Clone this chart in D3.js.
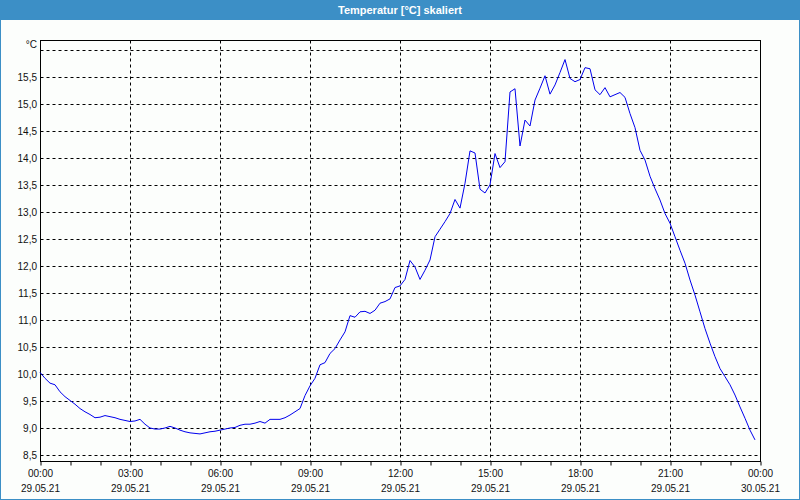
<!DOCTYPE html>
<html><head><meta charset="utf-8">
<script src="https://cdn.jsdelivr.net/npm/d3@7"></script>
<style>html,body{margin:0;padding:0;background:#fcfefc;}svg{display:block;}</style>
</head><body>
<svg id="c" width="800" height="500"></svg>
<script>
const titleText = "Temperatur [°C] skaliert";
const unitLabel = "°C";
const startTime = new Date(2021, 4, 29, 0, 0);
const endTime = new Date(2021, 4, 30, 0, 0);
const stepMinutes = 10;
// temperature readings every 10 minutes from 00:00 on 29.05.21
const temps = [
 10.03, 9.92, 9.83, 9.80, 9.67, 9.58, 9.51, 9.44, 9.36, 9.30,
 9.25, 9.19, 9.20, 9.23, 9.21, 9.19, 9.16, 9.14, 9.12, 9.13,
 9.16, 9.07, 9.00, 8.98, 8.98, 9.00, 9.03, 9.00, 8.96, 8.93,
 8.91, 8.90, 8.89, 8.91, 8.93, 8.94, 8.96, 8.98, 9.00, 9.01,
 9.05, 9.07, 9.07, 9.09, 9.12, 9.09, 9.16, 9.16, 9.16, 9.19,
 9.24, 9.30, 9.36, 9.60, 9.78, 9.92, 10.17, 10.21, 10.38, 10.47,
 10.63, 10.78, 11.08, 11.05, 11.15, 11.16, 11.12, 11.18, 11.31, 11.34,
 11.39, 11.60, 11.63, 11.75, 12.10, 11.98, 11.75, 11.92, 12.11, 12.54,
 12.68, 12.82, 12.97, 13.23, 13.07, 13.53, 14.13, 14.09, 13.42, 13.35,
 13.50, 14.08, 13.82, 13.93, 15.22, 15.28, 14.22, 14.70, 14.59, 15.07,
 15.29, 15.52, 15.18, 15.35, 15.58, 15.82, 15.47, 15.41, 15.45, 15.67,
 15.65, 15.26, 15.17, 15.30, 15.13, 15.17, 15.21, 15.12, 14.82, 14.56,
 14.14, 13.96, 13.66, 13.43, 13.22, 12.97, 12.79, 12.54, 12.29, 12.05,
 11.74, 11.46, 11.15, 10.84, 10.57, 10.32, 10.10, 9.95, 9.80, 9.61,
 9.39, 9.18, 8.96, 8.78
];
const yTickValues = [8.5, 9.0, 9.5, 10.0, 10.5, 11.0, 11.5, 12.0, 12.5, 13.0, 13.5, 14.0, 14.5, 15.0, 15.5];
const yGridValues = [8.5, 9.0, 9.5, 10.0, 10.5, 11.0, 11.5, 12.0, 12.5, 13.0, 13.5, 14.0, 14.5, 15.0, 15.5, 16.0];
const yDomain = [8.389, 16.182];

const W = 800, H = 500;
const L = 40, R = 760, T = 40, B = 461;
const svg = d3.select("#c");
const font = "'Liberation Sans', Arial, sans-serif";
const blue = "#3c8fc6";

svg.append("rect").attr("width", W).attr("height", H).attr("fill", "#fcfefc");
svg.append("rect").attr("x", 0).attr("y", 0).attr("width", W).attr("height", 20).attr("fill", blue);
svg.append("rect").attr("x", 0.5).attr("y", 0.5).attr("width", W - 1).attr("height", H - 1)
  .attr("fill", "none").attr("stroke", blue);
svg.append("text").attr("x", W / 2).attr("y", 14).attr("text-anchor", "middle")
  .attr("fill", "#ffffff").attr("font-family", font).attr("font-weight", "bold").attr("font-size", 11)
  .text(titleText);

const x = d3.scaleTime().domain([startTime, endTime]).range([L, R]);
const y = d3.scaleLinear().domain(yDomain).range([B, T]);

const g = svg.append("g").attr("transform", "translate(0.5,0.5)");

// horizontal grid
g.selectAll("line.hg").data(yGridValues).join("line").attr("class", "hg")
  .attr("x1", L).attr("x2", R)
  .attr("y1", d => Math.round(y(d))).attr("y2", d => Math.round(y(d)))
  .attr("stroke", "#000").attr("stroke-dasharray", "3,3");

// vertical grid every 3 hours
const gridTimes = d3.timeHour.every(3).range(d3.timeHour.offset(startTime, 1), endTime);
g.selectAll("line.vg").data(gridTimes).join("line").attr("class", "vg")
  .attr("x1", d => Math.round(x(d))).attr("x2", d => Math.round(x(d)))
  .attr("y1", T).attr("y2", B)
  .attr("stroke", "#000").attr("stroke-dasharray", "3,3");

// frame
g.append("rect").attr("x", L).attr("y", T).attr("width", R - L).attr("height", B - T)
  .attr("fill", "none").attr("stroke", "#000");

// x axis ticks (hourly) + labels (3-hourly)
const xAxis = d3.axisBottom(x).ticks(d3.timeHour.every(1)).tickSize(4).tickFormat("");
const xa = g.append("g").attr("transform", `translate(0,${B})`).call(xAxis);
xa.select(".domain").remove();
xa.selectAll("line").attr("stroke", "#000");

const labelTimes = d3.timeHour.every(3).range(startTime, d3.timeMinute.offset(endTime, 1));
const fmtT = d3.timeFormat("%H:%M"), fmtD = d3.timeFormat("%d.%m.%y");
const lab = svg.append("g").attr("font-family", font).attr("font-size", 10).attr("fill", "#111")
  .attr("text-anchor", "middle");
labelTimes.forEach(t => {
  lab.append("text").attr("x", x(t) + 0.5).attr("y", 477).text(fmtT(t));
  lab.append("text").attr("x", x(t) + 0.5).attr("y", 492).text(fmtD(t));
});

// y labels
const fmtY = v => d3.format(".1f")(v).replace(".", ",");
const yl = svg.append("g").attr("font-family", font).attr("font-size", 10).attr("fill", "#111")
  .attr("text-anchor", "end");
yl.selectAll("text").data(yTickValues).join("text")
  .attr("x", 37).attr("y", d => Math.round(y(d)) + 4).text(fmtY);
yl.append("text").attr("x", 37).attr("y", 48).text(unitLabel);

// line
const pts = temps.map((v, i) => ({t: d3.timeMinute.offset(startTime, i * stepMinutes), v}));
const line = d3.line().x(d => x(d.t)).y(d => y(d.v));
svg.append("path").datum(pts).attr("d", line).attr("fill", "none")
  .attr("stroke", "#0000ee").attr("stroke-width", 1);
</script>
</body></html>
